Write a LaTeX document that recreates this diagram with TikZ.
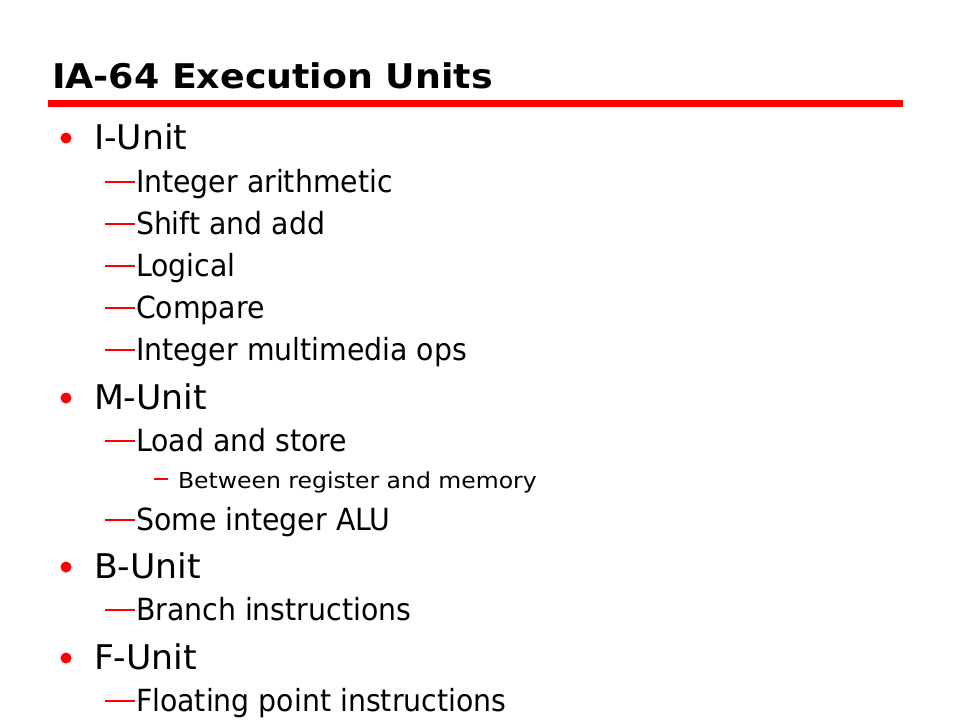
\documentclass[tikz,border=0pt]{standalone}
\usepackage{fontspec}
\setmainfont{DejaVu Sans}
\newfontfamily\titlefont{DejaVu Sans Bold}[FakeStretch=1.07]
\newfontfamily\onefont{DejaVu Sans}[FakeStretch=1.02]
\newfontfamily\twofont{DejaVu Sans}[FakeStretch=0.93]
\newfontfamily\threefont{DejaVu Sans}[FakeStretch=1.07]
\definecolor{slidered}{RGB}{255,0,0}
\begin{document}
\begin{tikzpicture}[x=1pt,y=-1pt,
  every node/.style={inner sep=0pt,outer sep=0pt,anchor=base west},
  lvlone/.style={font=\onefont\fontsize{34}{34}\selectfont},
  lvltwo/.style={font=\twofont\fontsize{30.5}{30.5}\selectfont},
  lvlthree/.style={font=\threefont\fontsize{22}{22}\selectfont},
  bigdash/.style={draw=slidered,line width=2pt},
  smalldash/.style={draw=slidered,line width=2pt},
  dot/.style={fill=slidered}]
\useasboundingbox[fill=white] (0,0) rectangle (960,720);
% title
\node[font=\titlefont\fontsize{34}{34}\selectfont] (title) at (52,88) {IA-64 Execution Units};
\fill[slidered] (48,100) rectangle (903,107);
% level one
\foreach \n/\t/\y in {i/I-Unit/149, m/M-Unit/409, b/B-Unit/578, f/F-Unit/669}{
  \fill[dot] (66,\y-11) circle (5.5);
  \node[lvlone] (\n) at (94,\y) {\t};
}
% level two
\foreach \n/\t/\y in {a/Integer arithmetic/192, s/Shift and add/234, l/Logical/276, c/Compare/318, o/Integer multimedia ops/360, ls/Load and store/451, ia/Some integer ALU/530, br/Branch instructions/620, fp/Floating point instructions/711}{
  \draw[bigdash] (105,\y-10) -- (135,\y-10);
  \node[lvltwo] (\n) at (136,\y) {\t};
}
% level three
\draw[smalldash] (154,479) -- (168,479);
\node[lvlthree] (brm) at (178,488) {Between register and memory};
\end{tikzpicture}
\end{document}
